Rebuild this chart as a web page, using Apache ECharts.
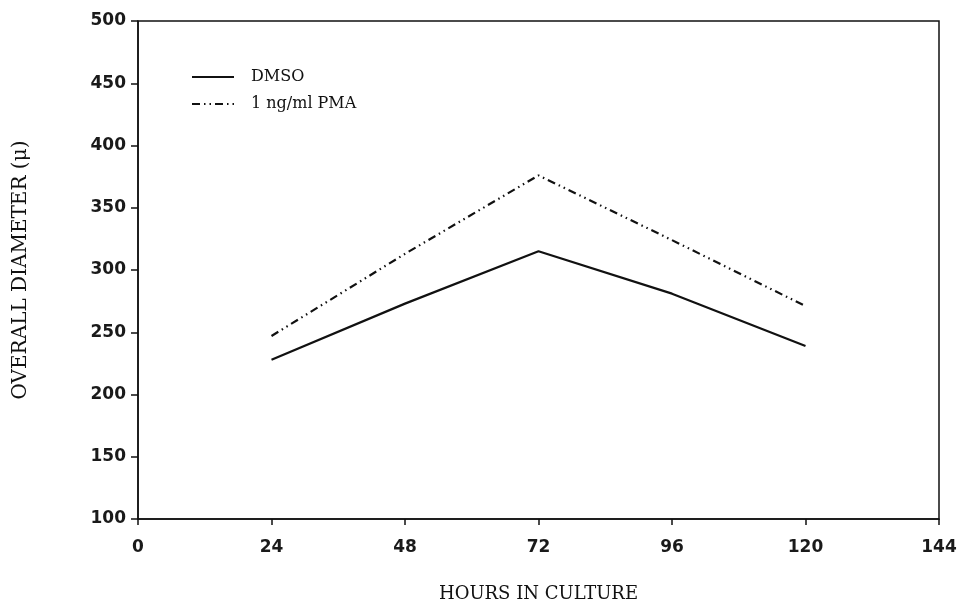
<!DOCTYPE html>
<html>
<head>
<meta charset="utf-8">
<script src="https://cdn.jsdelivr.net/npm/echarts@6/dist/echarts.min.js"></script>
<style>html,body{margin:0;padding:0;background:#fff}#c{width:967px;height:612px}</style>
</head>
<body>
<div id="c"></div>
<script>
const hours = [24, 48, 72, 96, 120];
const dmso = [228, 273, 315, 281, 239];
const pma = [247, 313, 376, 324, 271];
const xTicks = [0, 24, 48, 72, 96, 120, 144];
const yTicks = [100, 150, 200, 250, 300, 350, 400, 450, 500];

const chart = echarts.init(document.getElementById('c'));
const tickFont = {color: '#1a1a1a', fontFamily: 'DejaVu Sans', fontWeight: 'bold', fontSize: 17};
chart.setOption({
  animation: false,
  backgroundColor: '#fff',
  grid: {left: 138, right: 28, top: 21, bottom: 93, show: true, borderColor: '#111', borderWidth: 1.5, backgroundColor: 'transparent'},
  legend: {
    orient: 'vertical', left: 186, top: 64, itemWidth: 42, itemHeight: 10, itemGap: 11,
    itemStyle: {opacity: 0},
    textStyle: {fontFamily: 'DejaVu Serif', fontSize: 16, color: '#111', padding: [0, 0, 0, 12]},
    data: [{name: 'DMSO'}, {name: '1 ng/ml PMA'}]
  },
  xAxis: {
    type: 'value', min: 0, max: 144, interval: 24,
    axisLine: {lineStyle: {color: '#111', width: 1.5}},
    axisTick: {show: true, length: 6, lineStyle: {color: '#111', width: 1.5}},
    axisLabel: Object.assign({margin: 20, customValues: xTicks}, tickFont),
    splitLine: {show: false},
    name: 'HOURS IN CULTURE', nameLocation: 'middle', nameGap: 66,
    nameTextStyle: {fontFamily: 'DejaVu Serif', fontSize: 18, color: '#111'}
  },
  yAxis: {
    type: 'value', min: 100, max: 500, interval: 50,
    axisLine: {lineStyle: {color: '#111', width: 1.5}},
    axisTick: {show: true, length: 7, lineStyle: {color: '#111', width: 1.5}},
    axisLabel: Object.assign({margin: 12}, tickFont),
    splitLine: {show: false},
    name: 'OVERALL DIAMETER (\u03bc)', nameLocation: 'middle', nameGap: 107,
    nameTextStyle: {fontFamily: 'DejaVu Serif', fontSize: 20, color: '#111'}
  },
  series: [
    {
      name: 'DMSO', type: 'line', symbol: 'none', smooth: false,
      data: hours.map((h, i) => [h, dmso[i]]),
      lineStyle: {color: '#111', width: 2.2, type: 'solid'},
      itemStyle: {color: '#111'}
    },
    {
      name: '1 ng/ml PMA', type: 'line', symbol: 'none', smooth: false,
      data: hours.map((h, i) => [h, pma[i]]),
      lineStyle: {color: '#111', width: 2.2, type: [8, 4, 1.5, 4, 1.5, 4]},
      itemStyle: {color: '#111'}
    }
  ]
});
</script>
</body>
</html>
